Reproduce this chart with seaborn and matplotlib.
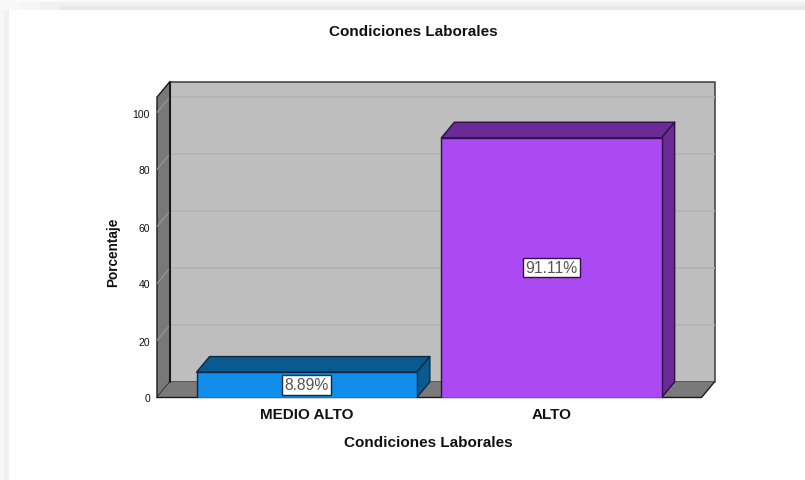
import matplotlib
matplotlib.use("Agg")
import matplotlib.pyplot as plt
from matplotlib.patches import Polygon, Rectangle
import pandas as pd
import seaborn as sns

categories = ["MEDIO ALTO", "ALTO"]
values = [8.89, 91.11]
labels = ["8.89%", "91.11%"]
y_ticks = [0, 20, 40, 60, 80, 100]
front_colors = ["#108EE9", "#AB4AF3"]
side_colors = ["#0A5A92", "#6A2B96"]
edge_colors = ["#0B2A42", "#2E1145"]

sns.set_theme(style="white")
plt.rcParams["font.family"] = ["Liberation Sans", "DejaVu Sans"]

W, H = 805, 481
fig = plt.figure(figsize=(W / 100, H / 100), dpi=100, facecolor="white")

# soft window shadow along the top and the left
def band(x0, y0, x1, y1, color):
    fig.add_artist(Rectangle((x0 / W, 1 - y1 / H), (x1 - x0) / W, (y1 - y0) / H,
                             transform=fig.transFigure, fc=color, ec="none", zorder=-5))
band(0, 0, W, 3, "#FAFAFA")
band(0, 3, 20, 11, "#F8F8F8")
band(20, 3, 40, 11, "#F5F5F5")
band(40, 3, 60, 11, "#F1F1F1")
band(60, 3, W, 7, "#F0F0F0")
band(60, 7, W, 11, "#E9E9E9")
band(0, 11, 4, H, "#F8F8F8")
band(4, 11, 9, H, "#F1F1F1")

left, right, bottom, top = 157, 714.5, 398.5, 82.5
ax = fig.add_axes([left / W, 1 - bottom / H, (right - left) / W, (bottom - top) / H])

df = pd.DataFrame({"cat": categories, "val": values})
sns.barplot(data=df, x="cat", y="val", hue="cat", palette=front_colors, legend=False,
            width=0.9, saturation=1, ax=ax, zorder=5, edgecolor="#222222", linewidth=1.0)

px_x, px_y = 244.8, 2.85
ax.set_xlim(-(306.7 - left) / px_x, 1 + (right - 551.5) / px_x)
ax.set_ylim(0, (bottom - top) / px_y)
dx, dy = 13 / px_x, 15.6 / px_y
x0 = ax.get_xlim()[0]
x1 = ax.get_xlim()[1] - dx
y1 = ax.get_ylim()[1] - dy
line = "#1A1A1A"

def poly(pts, fc, ec=line, lw=1.0, z=1):
    ax.add_patch(Polygon(pts, closed=True, fc=fc, ec=ec, lw=lw, zorder=z, clip_on=False, joinstyle="round"))

# walls and floor
poly([(x0 + dx, dy), (x1 + dx, dy), (x1 + dx, y1 + dy), (x0 + dx, y1 + dy)], "#BEBEBE", ec="#3A3A3A", lw=1.1)
poly([(x0, 0), (x0 + dx, dy), (x0 + dx, y1 + dy), (x0, y1)], "#787878")
poly([(x0, 0), (x1, 0), (x1 + dx, dy), (x0 + dx, dy)], "#7A7A7A", ec="none", z=1.5)
ax.plot([x0, x1, x1 + dx], [0, 0, dy], color=line, lw=1.0, zorder=2, clip_on=False)
ax.plot([x0 + dx, x0 + dx], [dy, y1 + dy], color=line, lw=1.5, zorder=2.1)

# gridlines on the back wall and the side wall
for t in y_ticks[1:]:
    ax.plot([x0 + dx, x1 + dx], [t + dy, t + dy], color="#B1B1B1", lw=1.1, zorder=1.2)
    ax.plot([x0, x0 + dx], [t, t + dy], color="#9A9A9A", lw=0.8, zorder=1.2)

# bars: top and side faces, labels
for i, (bar, v) in enumerate(zip(ax.patches[:2], values)):
    xl, xr = bar.get_x(), bar.get_x() + bar.get_width()
    bar.set_edgecolor(edge_colors[i])
    poly([(xl, v), (xr, v), (xr + dx, v + dy), (xl + dx, v + dy)], side_colors[i], ec=edge_colors[i], z=4)
    poly([(xr, 0), (xr + dx, dy), (xr + dx, v + dy), (xr, v)], side_colors[i], ec=edge_colors[i], z=4)
    ax.text(i, v / 2, labels[i], ha="center", va="center", fontsize=11.3, color="#555555", zorder=8,
            bbox=dict(boxstyle="square,pad=0.14", fc="white", ec=edge_colors[i], lw=1.0))

for s in ax.spines.values():
    s.set_visible(False)
ax.set_facecolor("none")
ax.set_yticks(y_ticks)
ax.set_xticks([0, 1], categories)
ax.tick_params(axis="y", length=0, pad=5, labelsize=7.5, labelcolor="#111111")
ax.tick_params(axis="x", length=0, pad=7, labelsize=11, labelcolor="#111111")
for t in ax.get_xticklabels():
    t.set_fontweight("bold")
ax.set_xlabel("Condiciones Laborales", fontsize=11, fontweight="bold", color="#111111")
ax.xaxis.set_label_coords((428.5 - left) / (right - left), -(443.5 - bottom) / (bottom - top))
ax.xaxis.label.set_va("center")
ax.set_ylabel("Porcentaje", fontsize=9.8, fontweight="bold", color="#111111")
ax.yaxis.set_label_coords((113 - left) / (right - left), (bottom - 252) / (bottom - top))
ax.yaxis.label.set_va("center")
fig.text(413.5 / W, 1 - 31.5 / H, "Condiciones Laborales", ha="center", va="center",
         fontsize=11, fontweight="bold", color="#111111")

fig.savefig("out.png", dpi=100)
